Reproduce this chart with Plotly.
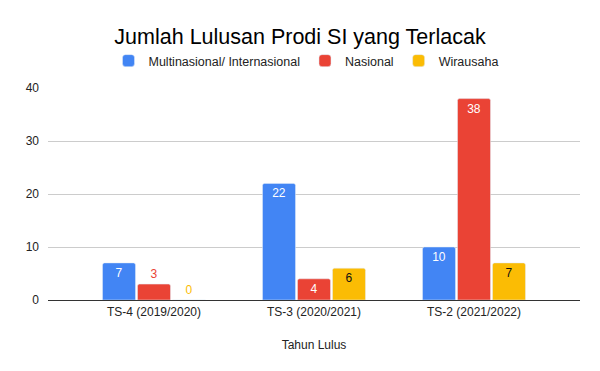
import plotly.graph_objects as go

categories = ["TS-4 (2019/2020)", "TS-3 (2020/2021)", "TS-2 (2021/2022)"]
multinasional = [7, 22, 10]
nasional = [3, 4, 38]
wirausaha = [0, 6, 7]
series_names = ["Multinasional/ Internasional", "Nasional", "Wirausaha"]
colors = ["#4285F4", "#EA4335", "#FBBC04"]
inside_colors = ["#FFFFFF", "#FFFFFF", "#111111"]
positions = [["inside"] * 3, ["outside", "inside", "inside"], ["outside", "inside", "inside"]]

FONT = "Arial, Liberation Sans, sans-serif"
fig = go.Figure()
for name, vals, col, ic, pos in zip(series_names, [multinasional, nasional, wirausaha], colors, inside_colors, positions):
    fig.add_trace(go.Bar(
        x=categories, y=vals, name=name, marker_color=col,
        text=[str(v) for v in vals], textposition=pos,
        insidetextanchor="end", constraintext="none",
        insidetextfont=dict(color=ic, size=12, family=FONT),
        outsidetextfont=dict(color=col, size=12, family=FONT),
        textangle=0, cliponaxis=False,
    ))

fig.update_layout(
    width=600, height=371,
    paper_bgcolor="white", plot_bgcolor="white",
    margin=dict(l=48, r=20, t=88, b=71, autoexpand=False),
    barmode="group", bargap=0.344, bargroupgap=0.057, barcornerradius=2,
    font=dict(family=FONT, size=12, color="#222222"),
    title=dict(text="Jumlah Lulusan Prodi SI yang Terlacak", x=0.5, xanchor="center",
               y=1 - 36 / 371, yanchor="middle", yref="container",
               font=dict(size=21.5, color="#000000", family=FONT)),
    legend=dict(orientation="h", x=0.51, xanchor="center", xref="container",
                y=1 - 61 / 371, yanchor="middle", yref="container",
                font=dict(size=12.5, color="#222222"), traceorder="normal",
                itemwidth=30),
    uniformtext=dict(mode=False),
)
fig.update_xaxes(
    range=[-0.6625, 2.6625], showgrid=False, ticks="", showline=False, automargin=False,
    title=dict(text="Tahun Lulus", font=dict(size=12, color="#222222"), standoff=22),
    tickfont=dict(size=12, color="#222222"), ticklabelstandoff=3,
)
fig.update_yaxes(
    range=[0, 40], dtick=10, showgrid=True, gridcolor="#CCCCCC", gridwidth=1, automargin=False,
    zeroline=True, zerolinecolor="#333333", zerolinewidth=1,
    tickfont=dict(size=12, color="#222222"), ticks="", ticklabelstandoff=8,
)
fig.write_html("out.html", config={"displayModeBar": False},
               post_script="document.body.style.margin='0';")
